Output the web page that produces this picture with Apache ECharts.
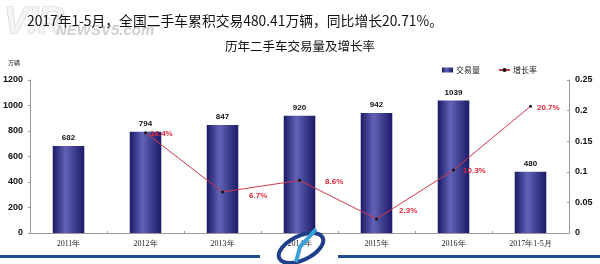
<!DOCTYPE html>
<html><head><meta charset="utf-8">
<script src="https://cdn.jsdelivr.net/npm/echarts@6/dist/echarts.min.js"></script>
<style>html,body{margin:0;padding:0;background:#fff}#c{width:600px;height:264px}</style>
</head><body><div id="c"></div>
<script>
const categories = ['2011年','2012年','2013年','2014年','2015年','2016年','2017年1-5月'];
const volume = [682, 794, 847, 920, 942, 1039, 480];
const growth = [null, 0.164, 0.067, 0.086, 0.023, 0.103, 0.207];
const growthLabels = ['', '16.4%', '6.7%', '8.6%', '2.3%', '10.3%', '20.7%'];
const leftTicks = [0, 1200, 200];
const rightTicks = [0, 0.25, 0.05];

// label placement styling (not data)
const labelPlace = [[0,0],[3,1],[25,4],[24,1],[21,-8],[8,1],[5,1]];

const growthData = growth.map((v, i) => ({
  value: v,
  label: {distance: labelPlace[i][0], offset: [0, labelPlace[i][1]]}
}));

const chart = echarts.init(document.getElementById('c'));
chart.setOption({
  animation: false,
  backgroundColor: '#fff',
  graphic: [
    {type: 'text', x: 4, y: 5, z: 0, silent: true,
     style: {text: 'VIR', font: 'italic bold 36px Liberation Sans', verticalAlign: 'top', align: 'left',
             fill: '#f4f4f4', stroke: '#cfcfcf', lineWidth: 1.2}},
    {type: 'text', x: 56, y: 23, z: 0, silent: true,
     style: {text: 'NEWSV5.com', font: 'italic bold 15px Liberation Sans', verticalAlign: 'top', fill: '#d0d0d0'}},
    {type: 'rect', shape: {x: 0, y: 255, width: 260, height: 3}, style: {fill: '#1f4e8c'}},
    {type: 'rect', shape: {x: 338, y: 255, width: 262, height: 3}, style: {fill: '#1f4e8c'}},
    {type: 'ellipse', shape: {cx: 301, cy: 248, rx: 24, ry: 12}, rotation: 0.45, originX: 301, originY: 248,
     style: {fill: 'none', stroke: '#1f3f8a', lineWidth: 4}, z: 10},
    {type: 'polyline', shape: {points: [[296, 262], [300, 247], [310, 236], [316, 229]]},
     style: {stroke: '#3aa0d8', lineWidth: 4, fill: 'none'}, z: 11}
  ],
  title: [
    {text: '2017年1-5月，全国二手车累积交易480.41万辆，同比增长20.71%。', left: 22, top: 9, z: 10,
     textStyle: {fontSize: 13.8, fontWeight: 'normal', color: '#111', fontFamily: 'Noto Sans CJK SC'}},
    {text: '历年二手车交易量及增长率', left: 'center', top: 35,
     textStyle: {fontSize: 12.5, fontWeight: 'normal', color: '#111', fontFamily: 'Noto Sans CJK SC'}},
    {text: '万辆', left: 3, top: 55,
     textStyle: {fontSize: 6, fontWeight: 'normal', color: '#222', fontFamily: 'Noto Sans CJK SC'}}
  ],
  legend: {
    top: 61, left: 437, itemGap: 18, itemWidth: 11, itemHeight: 5,
    textStyle: {fontSize: 8, color: '#222', fontFamily: 'Noto Sans CJK SC', padding: [0,0,0,-2]},
    data: [{name: '交易量', icon: 'rect'}, {name: '增长率'}]
  },
  grid: {left: 26, right: 31, top: 80, bottom: 31},
  xAxis: {
    type: 'category', data: categories,
    axisLine: {lineStyle: {color: '#999'}},
    axisTick: {show: true, inside: true, length: 2, lineStyle: {color: '#999'}},
    axisLabel: {fontSize: 8, color: '#222', fontFamily: 'Liberation Serif', margin: 7}
  },
  yAxis: [
    {type: 'value', min: leftTicks[0], max: leftTicks[1], interval: leftTicks[2],
     splitLine: {show: false},
     axisLine: {show: true, lineStyle: {color: '#999'}},
     axisTick: {show: true, length: 2, lineStyle: {color: '#999'}},
     axisLabel: {fontSize: 9, fontWeight: 'bold', color: '#111', fontFamily: 'Liberation Sans', margin: 7,
                 formatter: v => String(v)}},
    {type: 'value', min: rightTicks[0], max: rightTicks[1], interval: rightTicks[2],
     splitLine: {show: false},
     axisLine: {show: true, lineStyle: {color: '#999'}},
     axisTick: {show: true, inside: true, length: 2, lineStyle: {color: '#999'}},
     axisLabel: {fontSize: 9, fontWeight: 'bold', color: '#111', fontFamily: 'Liberation Sans', margin: 6,
                 formatter: v => String(v)}}
  ],
  series: [
    {name: '交易量', type: 'bar', data: volume, barWidth: '41%', z: 2,
     itemStyle: {color: new echarts.graphic.LinearGradient(0, 0, 1, 0, [
       {offset: 0, color: '#1a1a66'}, {offset: 0.4, color: '#6262b8'}, {offset: 1, color: '#1a1a66'}])},
     label: {show: true, position: 'top', fontSize: 8, fontWeight: 'bold', color: '#111',
             fontFamily: 'Liberation Sans', distance: 4}},
    {name: '增长率', type: 'line', yAxisIndex: 1, data: growthData, z: 3,
     symbol: 'circle', symbolSize: 3,
     itemStyle: {color: '#111'},
     lineStyle: {color: '#d0384a', width: 1},
     label: {show: true, position: 'right', fontSize: 8, fontWeight: 'bold',
             color: '#e0283a', fontFamily: 'Liberation Sans',
             formatter: p => growthLabels[p.dataIndex]}}
  ]
});
</script></body></html>
